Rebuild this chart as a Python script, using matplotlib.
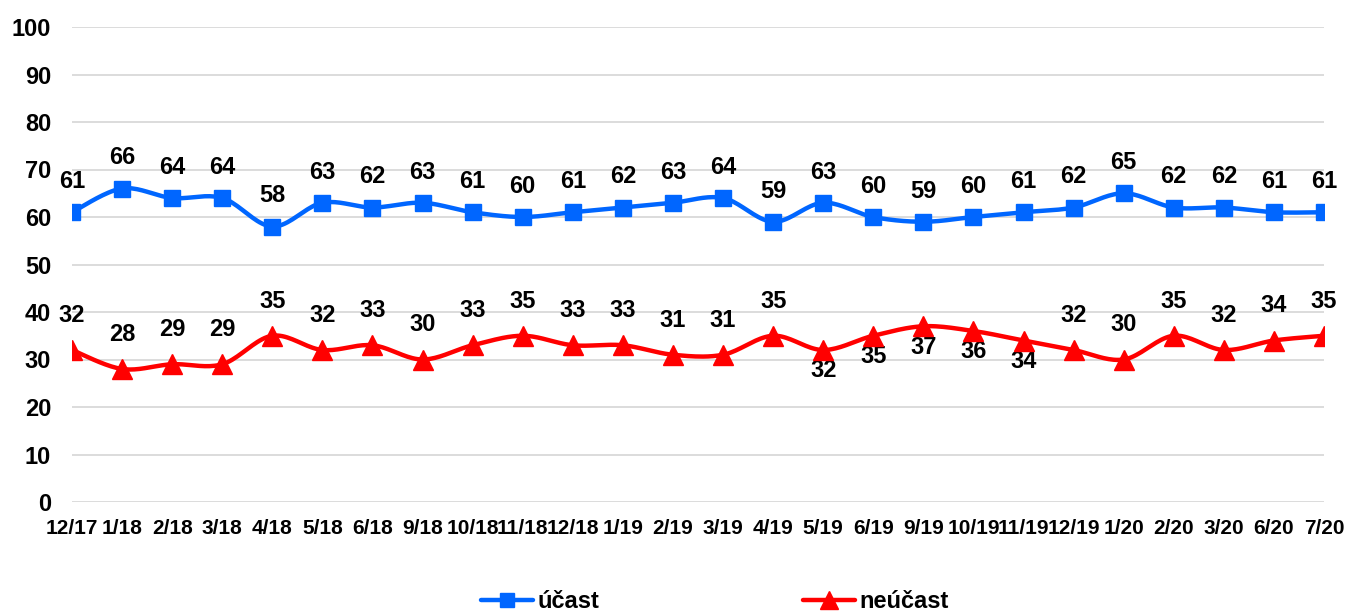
import matplotlib
matplotlib.use('Agg')
import matplotlib.pyplot as plt
import numpy as np

plt.rcParams['font.family'] = ['Liberation Sans', 'DejaVu Sans']
plt.rcParams['font.weight'] = 'bold'

# Data
periods = ['12/17', '1/18', '2/18', '3/18', '4/18', '5/18', '6/18', '9/18', '10/18',
           '11/18', '12/18', '1/19', '2/19', '3/19', '4/19', '5/19', '6/19', '9/19',
           '10/19', '11/19', '12/19', '1/20', '2/20', '3/20', '6/20', '7/20']
ucast = [61, 66, 64, 64, 58, 63, 62, 63, 61, 60, 61, 62, 63, 64, 59, 63, 60, 59,
         60, 61, 62, 65, 62, 62, 61, 61]
neucast = [32, 28, 29, 29, 35, 32, 33, 30, 33, 35, 33, 33, 31, 31, 35, 32, 35, 37,
           36, 34, 32, 30, 35, 32, 34, 35]
# red labels drawn under the point for these periods
neucast_below = {'5/19', '6/19', '9/19', '10/19', '11/19'}

BLUE = '#0066FF'
RED = '#FF0000'


def smooth(x, y, n=20):
    """Catmull-Rom curve through the points (like Excel's smoothed line)"""
    x = np.asarray(x, float)
    y = np.asarray(y, float)
    px = np.concatenate([[x[0]], x, [x[-1]]])
    py = np.concatenate([[y[0]], y, [y[-1]]])
    xs, ys = [], []
    t = np.linspace(0, 1, n, endpoint=False)
    for i in range(1, len(px) - 2):
        for p, out in ((px, xs), (py, ys)):
            p0, p1, p2, p3 = p[i - 1], p[i], p[i + 1], p[i + 2]
            out.extend(0.5 * ((2 * p1) + (-p0 + p2) * t
                              + (2 * p0 - 5 * p1 + 4 * p2 - p3) * t ** 2
                              + (-p0 + 3 * p1 - 3 * p2 + p3) * t ** 3))
    xs.append(x[-1])
    ys.append(y[-1])
    return np.array(xs), np.array(ys)


fig = plt.figure(figsize=(13.47, 6.14), dpi=100)
ax = fig.add_axes([72 / 1347, 1 - 502 / 614, (1324 - 72) / 1347, (502 - 27) / 614])

x = np.arange(len(periods))

for vals, color, marker, ms, label in ((ucast, BLUE, 's', 11, 'účast'),
                                       (neucast, RED, '^', 14, 'neúčast')):
    sx, sy = smooth(x, vals)
    ax.plot(sx, sy, color=color, lw=3.2, solid_capstyle='round', zorder=3)
    ax.plot(x, vals, linestyle='none', marker=marker, ms=ms, color=color, zorder=4)
    # legend proxy
    ax.plot([], [], color=color, lw=3.2, marker=marker, ms=ms - 1,
            solid_capstyle='round', label=label)

for i, v in enumerate(ucast):
    ax.annotate(str(v), (i, v), xytext=(0, 22), textcoords='offset points',
                ha='center', va='center', fontsize=17, fontweight='bold')
for i, v in enumerate(neucast):
    dy = -15 if periods[i] in neucast_below else 25
    ax.annotate(str(v), (i, v), xytext=(0, dy), textcoords='offset points',
                ha='center', va='center', fontsize=17, fontweight='bold')

ax.set_xlim(0, len(periods) - 1)
ax.set_ylim(0, 100)
ax.set_yticks(range(0, 101, 10))
ax.set_xticks(x)
ax.set_xticklabels(periods)
ax.tick_params(axis='both', length=0)
ax.tick_params(axis='x', labelsize=15, pad=12)
ax.tick_params(axis='y', labelsize=17, pad=15)
ax.grid(axis='y', color='#D9D9D9', lw=1.3)
ax.set_axisbelow(True)
for s in ax.spines.values():
    s.set_visible(False)

fig.legend(loc='center', bbox_to_anchor=(715 / 1347, 1 - 602 / 614), ncol=2,
           frameon=False, fontsize=17, handlelength=2.2, handletextpad=0.2,
           columnspacing=8.6, borderpad=0)

fig.savefig('out.png', dpi=100)
